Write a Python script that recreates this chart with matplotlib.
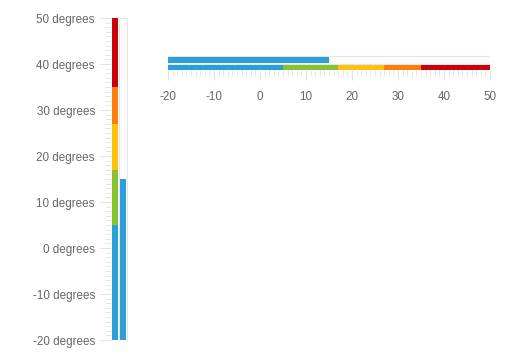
import matplotlib
matplotlib.use("Agg")
import matplotlib.pyplot as plt
from matplotlib.ticker import MultipleLocator

# Data
axis_min, axis_max = -20, 50
band_edges = [-20, 5, 17, 27, 35, 50]
band_colors = ["#2a9fda", "#86c32e", "#fdc10e", "#fc7f0d", "#c9020b"]
value = 15
value_color = "#2a9fda"
major_step = 10
minor_step = 1

W, H = 509, 364
fig = plt.figure(figsize=(W / 100, H / 100), dpi=100)
plt.rcParams['font.family'] = ['Liberation Sans', 'DejaVu Sans']
label_color = "#666666"
tick_color = "#e3e3e3"
outline_color = "#e6e6e6"
fs = 8.4

def px_rect(x0, y0, x1, y1):
    return [x0 / W, 1 - y1 / H, (x1 - x0) / W, (y1 - y0) / H]

# Vertical gauge
ax1 = fig.add_axes(px_rect(111, 18, 128, 340))
ax1.set_xlim(0, 17)
ax1.set_ylim(axis_min, axis_max)
for lo, hi, c in zip(band_edges[:-1], band_edges[1:], band_colors):
    ax1.bar(4, hi - lo, bottom=lo, width=6, color=c, linewidth=0)
ax1.bar(12, axis_max - axis_min, bottom=axis_min, width=8, facecolor="#fbfbfb",
        edgecolor=outline_color, linewidth=0.8)
ax1.bar(12, value - axis_min, bottom=axis_min, width=6, color=value_color, linewidth=0)
for s in ax1.spines.values():
    s.set_visible(False)
ax1.set_xticks([])
ax1.yaxis.set_major_locator(MultipleLocator(major_step))
ax1.yaxis.set_minor_locator(MultipleLocator(minor_step))
ax1.set_yticks(list(range(axis_min, axis_max + 1, major_step)))
ax1.set_yticklabels([f"{v} degrees" for v in range(axis_min, axis_max + 1, major_step)])
ax1.tick_params(axis="y", which="major", length=8, color=tick_color, width=0.8,
                labelcolor=label_color, labelsize=fs, pad=3.6)
ax1.tick_params(axis="y", which="minor", length=4.5, color=tick_color, width=0.6)

# Horizontal gauge
ax2 = fig.add_axes(px_rect(168, 55, 490, 70))
ax2.set_xlim(axis_min, axis_max)
ax2.set_ylim(70, 55)
ax2.barh(60, axis_max - axis_min, left=axis_min, height=8, facecolor="#fbfbfb",
         edgecolor=outline_color, linewidth=0.8)
ax2.barh(60, value - axis_min, left=axis_min, height=6, color=value_color, linewidth=0)
for lo, hi, c in zip(band_edges[:-1], band_edges[1:], band_colors):
    ax2.barh(67.5, hi - lo, left=lo, height=5, color=c, linewidth=0)
for s in ax2.spines.values():
    s.set_visible(False)
ax2.set_yticks([])
ax2.xaxis.set_major_locator(MultipleLocator(major_step))
ax2.xaxis.set_minor_locator(MultipleLocator(minor_step))
ax2.set_xticks(list(range(axis_min, axis_max + 1, major_step)))
ax2.set_xticklabels([str(v) for v in range(axis_min, axis_max + 1, major_step)])
ax2.tick_params(axis="x", which="major", length=7.5, color=tick_color, width=0.8,
                labelcolor=label_color, labelsize=fs, pad=7.5)
ax2.tick_params(axis="x", which="minor", length=4.5, color=tick_color, width=0.6)

fig.savefig("out.png", dpi=100)
